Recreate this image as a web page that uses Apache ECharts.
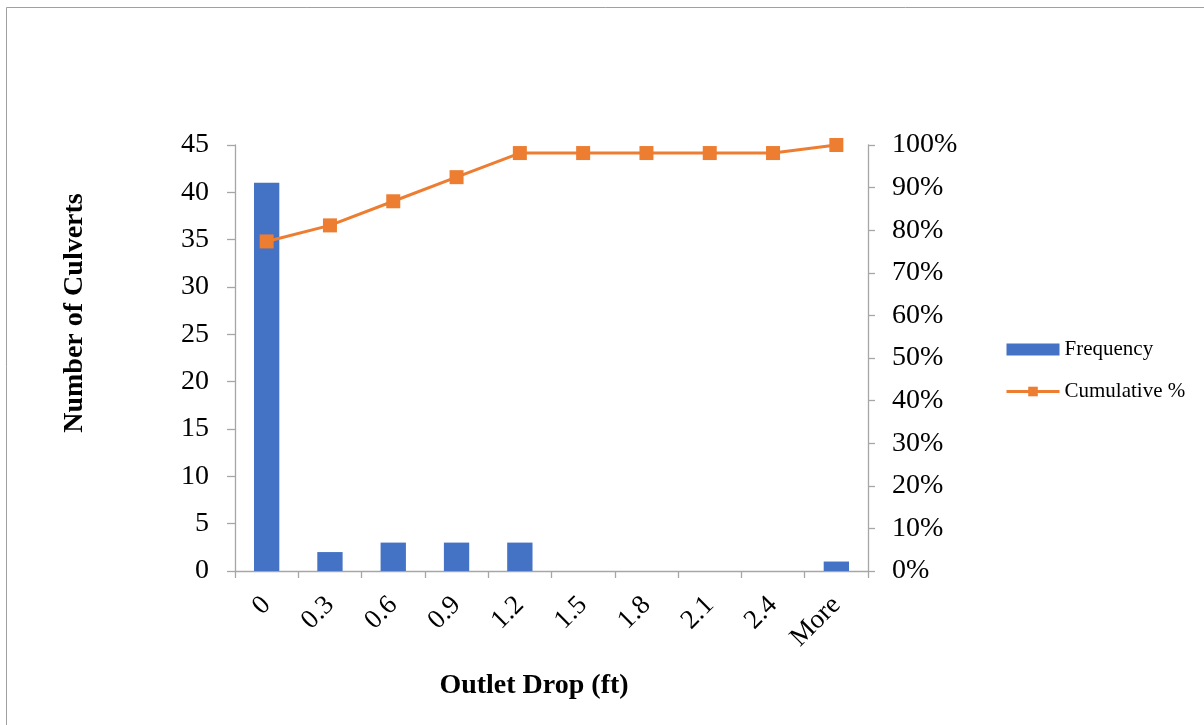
<!DOCTYPE html>
<html>
<head>
<meta charset="utf-8">
<script src="https://cdn.jsdelivr.net/npm/echarts@6/dist/echarts.min.js"></script>
<style>
html,body{margin:0;padding:0;background:#fff;}
#chart{width:1204px;height:725px;}
</style>
</head>
<body>
<div id="chart"></div>
<script>
const categories = ['0','0.3','0.6','0.9','1.2','1.5','1.8','2.1','2.4','More'];
const frequency = [41, 2, 3, 3, 3, 0, 0, 0, 0, 1];
const cumulativePct = [77.36, 81.13, 86.79, 92.45, 98.11, 98.11, 98.11, 98.11, 98.11, 100];

const serif = '"Liberation Serif", "Times New Roman", serif';
const axisColor = '#A6A6A6';

const chart = echarts.init(document.getElementById('chart'));
chart.setOption({
  animation: false,
  backgroundColor: '#fff',
  grid: { left: 235, right: 336, top: 145, bottom: 154, containLabel: false },
  graphic: [
    { type: 'rect', shape: { x: 6.5, y: 7.5, width: 1300, height: 800 },
      style: { fill: null, stroke: '#A0A0A0', lineWidth: 1 }, silent: true },
    { type: 'text', x: 75, y: 313, rotation: Math.PI / 2,
      style: { text: 'Number of Culverts', font: 'bold 28px ' + serif, fill: '#000',
               textAlign: 'center', textVerticalAlign: 'middle' } },
    { type: 'text', x: 534, y: 686,
      style: { text: 'Outlet Drop (ft)', font: 'bold 28px ' + serif, fill: '#000',
               textAlign: 'center', textVerticalAlign: 'middle' } }
  ],
  legend: {
    orient: 'vertical', left: 1000, top: 334, itemWidth: 53, itemHeight: 12, itemGap: 21,
    textStyle: { fontFamily: serif, fontSize: 21, color: '#000' },
    data: [
      { name: 'Frequency', icon: 'rect' },
      { name: 'Cumulative %', lineStyle: { width: 3, color: '#ED7D31' } }
    ]
  },
  xAxis: {
    type: 'category', data: categories, boundaryGap: true,
    axisLine: { lineStyle: { color: axisColor, width: 1.3 } },
    axisTick: { show: true, length: 7, alignWithLabel: false, lineStyle: { color: axisColor, width: 1.3 } },
    axisLabel: { rotate: 45, fontFamily: serif, fontSize: 27, color: '#000', margin: 30, interval: 0 }
  },
  yAxis: [
    { type: 'value', min: 0, max: 45, interval: 5, position: 'left',
      axisLine: { show: true, lineStyle: { color: axisColor, width: 1.3 } },
      axisTick: { show: true, length: 8, lineStyle: { color: axisColor, width: 1.3 } },
      splitLine: { show: false },
      axisLabel: { fontFamily: serif, fontSize: 28, color: '#000', margin: 26 } },
    { type: 'value', min: 0, max: 100, interval: 10, position: 'right',
      axisLine: { show: true, lineStyle: { color: axisColor, width: 1.3 } },
      axisTick: { show: true, length: 7, lineStyle: { color: axisColor, width: 1.3 } },
      splitLine: { show: false },
      axisLabel: { fontFamily: serif, fontSize: 28, color: '#000', margin: 24, formatter: '{value}%' } }
  ],
  series: [
    { name: 'Frequency', type: 'bar', data: frequency, yAxisIndex: 0,
      barWidth: '40%', itemStyle: { color: '#4472C4' } },
    { name: 'Cumulative %', type: 'line', data: cumulativePct, yAxisIndex: 1,
      symbol: 'rect', symbolSize: 14,
      lineStyle: { color: '#ED7D31', width: 3 }, itemStyle: { color: '#ED7D31' } }
  ]
});
</script>
</body>
</html>
